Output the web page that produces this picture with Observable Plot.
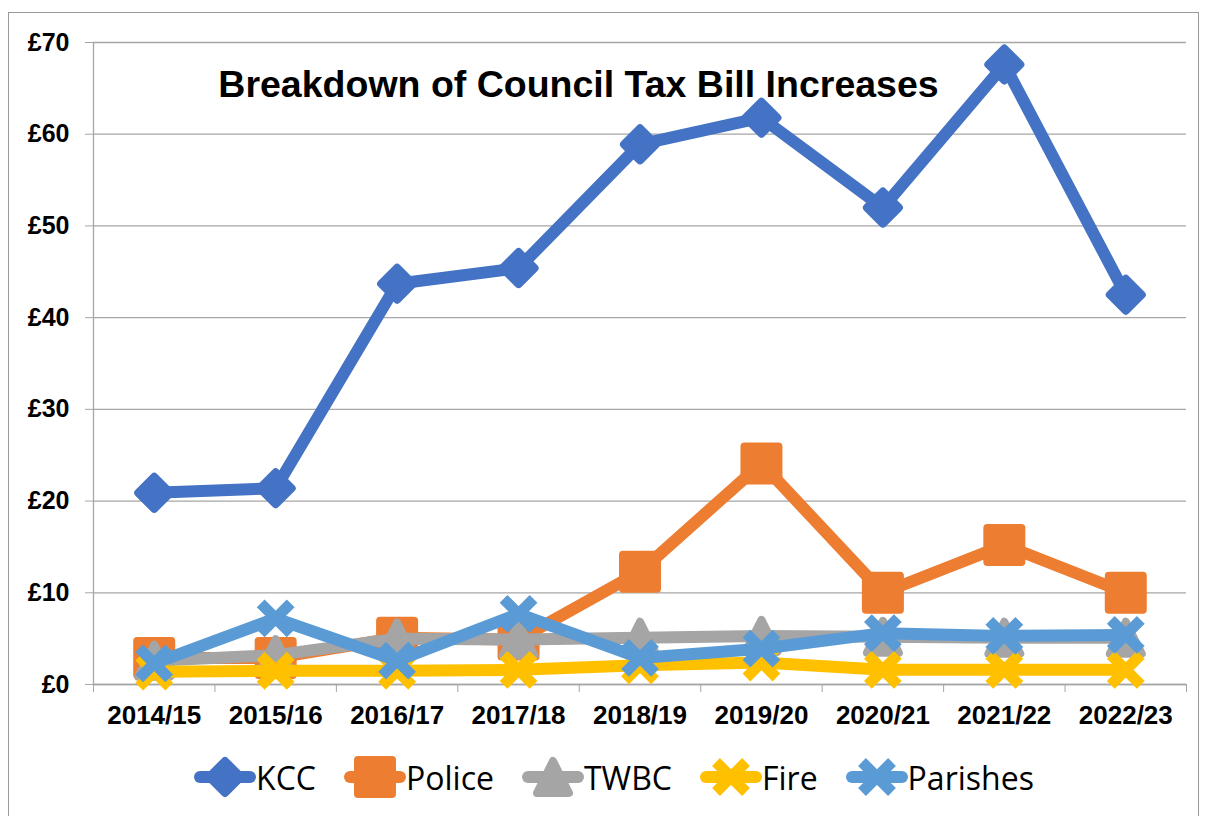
<!DOCTYPE html>
<html>
<head>
<meta charset="utf-8">
<script src="https://cdn.jsdelivr.net/npm/d3@7"></script>
<script src="https://cdn.jsdelivr.net/npm/@observablehq/plot@0.6"></script>
<style>
  html, body { margin: 0; padding: 0; background: #fff; }
  #wrap { position: relative; width: 1205px; height: 816px; overflow: hidden; }
  #frame { position: absolute; left: 8px; top: 12px; width: 1191px; height: 900px; border: 1.5px solid #9a9a9a; box-sizing: border-box; }
  #chart { position: absolute; left: 0; top: 0; }
  #title { position: absolute; left: 0; width: 1157px; top: 66px; text-align: center;
           font-family: "Liberation Sans", Arial, sans-serif; font-weight: bold; font-size: 37.5px; line-height: 1; color: #000; }
  #legend { position: absolute; left: 0; width: 1228px; top: 752px; height: 50px; display: flex; justify-content: center; align-items: center;
            font-family: "Open Sans", "Noto Sans", sans-serif; font-size: 32px; color: #000; }
  .item { display: flex; align-items: center; margin: 0 14px; }
  .item svg { display: block; }
</style>
</head>
<body>
<div id="wrap">
  <div id="frame"></div>
  <div id="chart"></div>
  <div id="title">Breakdown of Council Tax Bill Increases</div>
  <div id="legend"></div>
</div>
<script>
// ---- data ----
const categories = ["2014/15", "2015/16", "2016/17", "2017/18", "2018/19", "2019/20", "2020/21", "2021/22", "2022/23"];
const kcc      = [20.9, 21.4, 43.7, 45.4, 58.9, 61.8, 52.0, 67.6, 42.5];
const police   = [2.9, 2.9, 5.1, 4.9, 12.3, 24.1, 10.0, 15.2, 10.0];
const twbc     = [2.6, 3.2, 5.0, 4.9, 5.1, 5.3, 5.2, 5.1, 5.1];
const fire     = [1.4, 1.5, 1.5, 1.6, 2.1, 2.4, 1.6, 1.6, 1.6];
const parishes = [2.3, 7.2, 2.6, 7.7, 2.9, 3.9, 5.6, 5.3, 5.4];
const seriesNames = ["KCC", "Police", "TWBC", "Fire", "Parishes"];
const yTicks = [0, 10, 20, 30, 40, 50, 60, 70];

// ---- styles ----
const colors = {KCC: "#4472C4", Police: "#ED7D31", TWBC: "#A5A5A5", Fire: "#FFC000", Parishes: "#5B9BD5"};
const gridColor = "#a6a6a6";

const sym = {
  diamond: {draw(c, size) { const r = Math.sqrt(size / Math.PI); c.moveTo(0, -r); c.lineTo(r, 0); c.lineTo(0, r); c.lineTo(-r, 0); c.closePath(); }},
  square:  {draw(c, size) { const r = Math.sqrt(size / Math.PI); c.moveTo(-r, -r); c.lineTo(r, -r); c.lineTo(r, r); c.lineTo(-r, r); c.closePath(); }},
  triangle:{draw(c, size) { const r = Math.sqrt(size / Math.PI); c.moveTo(0, -r); c.lineTo(r, r); c.lineTo(-r, r); c.closePath(); }},
  cross:   {draw(c, size) { const r = Math.sqrt(size / Math.PI); c.moveTo(-r, -r); c.lineTo(r, r); c.moveTo(r, -r); c.lineTo(-r, r); }}
};
const markerStyle = {
  KCC:      {symbol: sym.diamond,  r: 16, filled: true,  sw: 8},
  Police:   {symbol: sym.square,   r: 17, filled: true,  sw: 8},
  TWBC:     {symbol: sym.triangle, r: 16, filled: true,  sw: 8},
  Fire:     {symbol: sym.cross,    r: 15, filled: false, sw: 11},
  Parishes: {symbol: sym.cross,    r: 15, filled: false, sw: 11}
};

const values = {KCC: kcc, Police: police, TWBC: twbc, Fire: fire, Parishes: parishes};
const rows = seriesNames.map(name => categories.map((cat, i) => ({series: name, i, category: cat, value: values[name][i]})));
const boundaries = d3.range(categories.length + 1).map(k => k - 0.5);

const H = 745;
const marks = [
  Plot.gridY(yTicks, {stroke: gridColor, strokeOpacity: 1, strokeWidth: 1.3}),
  Plot.ruleX([boundaries[0]], {stroke: gridColor, strokeWidth: 1.3}),
  Plot.ruleY([0], {stroke: gridColor, strokeWidth: 1.3}),
  Plot.axisY(yTicks, {label: null, tickFormat: d => "£" + d, tickSize: 8, tickPadding: 16, stroke: gridColor, fontSize: 25, fontWeight: "bold", fill: "#000"}),
  Plot.axisX(boundaries, {label: null, tickSize: 8, tickFormat: () => "", stroke: gridColor}),
  Plot.axisX(d3.range(categories.length), {label: null, tickSize: 0, tickPadding: 21, tickFormat: i => categories[i], fontSize: 26, fontWeight: "bold", fill: "#000"})
];
rows.forEach((data, k) => {
  const name = seriesNames[k];
  const col = colors[name];
  const m = markerStyle[name];
  marks.push(Plot.line(data, {x: "i", y: "value", stroke: col, strokeWidth: 12, strokeLinejoin: "round", strokeLinecap: "round"}));
  marks.push(Plot.dot(data, {x: "i", y: "value", symbol: m.symbol, r: m.r,
    fill: m.filled ? col : "none", stroke: col, strokeWidth: m.sw,
    strokeLinejoin: "round", strokeLinecap: "butt"}));
});

const chart = Plot.plot({
  width: 1205,
  height: H,
  marginLeft: 93,
  marginRight: 19,
  marginTop: 42,
  marginBottom: H - 684,
  x: {type: "linear", domain: [boundaries[0], boundaries[boundaries.length - 1]], axis: null, label: null},
  y: {domain: [yTicks[0], yTicks[yTicks.length - 1]], axis: null, label: null},
  style: {fontFamily: "'Liberation Sans', Arial, sans-serif", fontWeight: "bold", background: "transparent"},
  marks
});
document.getElementById("chart").appendChild(chart);

// ---- legend ----
const legend = document.getElementById("legend");
seriesNames.forEach(name => {
  const m = markerStyle[name];
  const col = colors[name];
  const p = d3.path();
  m.symbol.draw(p, m.r * m.r * Math.PI);
  const item = document.createElement("div");
  item.className = "item";
  item.innerHTML =
    `<svg width="62" height="46" viewBox="-31 -23 62 46">` +
    `<line x1="-25" y1="0" x2="25" y2="0" stroke="${col}" stroke-width="12" stroke-linecap="round"/>` +
    `<path d="${p.toString()}" fill="${m.filled ? col : "none"}" stroke="${col}" stroke-width="${m.sw}" stroke-linejoin="round"/>` +
    `</svg><span>${name}</span>`;
  legend.appendChild(item);
});
</script>
</body>
</html>
